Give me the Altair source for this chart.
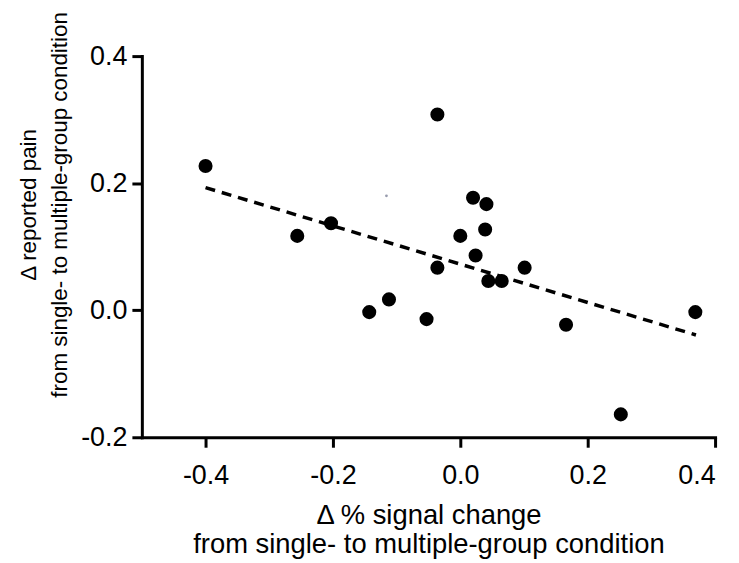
import altair as alt
import pandas as pd

# Data
x_vals = [-0.400, -0.036, 0.020, 0.041, 0.039, 0.000, -0.203, -0.256, 0.024, -0.036,
          0.044, 0.065, 0.101, -0.053, -0.112, -0.143, 0.166, 0.369, 0.252]
y_vals = [0.227, 0.308, 0.177, 0.167, 0.127, 0.117, 0.137, 0.117, 0.086, 0.067,
          0.046, 0.046, 0.067, -0.014, 0.017, -0.003, -0.023, -0.003, -0.164]
fit_x = [-0.40, 0.37]
fit_y = [0.193, -0.039]
speck_x = [-0.116]
speck_y = [0.180]
x_ticks = [-0.4, -0.2, 0.0, 0.2, 0.4]
y_ticks = [-0.2, 0.0, 0.2, 0.4]

pts = pd.DataFrame({"x": x_vals, "y": y_vals})
fit = pd.DataFrame({"x": fit_x, "y": fit_y})
speck = pd.DataFrame({"x": speck_x, "y": speck_y})

label_expr = "datum.value < 0 ? '-' + format(-datum.value, '.1f') : format(datum.value, '.1f')"

x_enc = alt.X(
    "x:Q",
    scale=alt.Scale(domain=[-0.5, 0.4], nice=False, zero=False),
    axis=alt.Axis(
        values=x_ticks,
        labelExpr=label_expr,
        title=["\u0394 % signal change", "from single- to multiple-group condition"],
        titleY=87,
        titleBaseline="alphabetic",
        titleLineHeight=29,
        titleFontSize=27.5,
        labelPadding=15,
    ),
)
y_enc = alt.Y(
    "y:Q",
    scale=alt.Scale(domain=[-0.2, 0.4], nice=False, zero=False),
    axis=alt.Axis(
        values=y_ticks,
        labelExpr=label_expr,
        title=["\u0394 reported pain", "from single- to multiple-group condition"],
        titleAngle=270,
        titleX=-114,
        titleY=149,
        titleBaseline="middle",
        titleAlign="center",
        titleLineHeight=31,
        titleFontSize=22.5,
        labelPadding=5,
    ),
)

line = alt.Chart(fit).mark_line(color="black", strokeDash=[10, 7], strokeWidth=3.5).encode(
    x=x_enc, y=y_enc
)
dots = alt.Chart(pts).mark_circle(size=200, color="black", opacity=1).encode(x=x_enc, y=y_enc)
tiny = alt.Chart(speck).mark_circle(size=8, color="#7d8299", opacity=0.8).encode(x=x_enc, y=y_enc)

chart = (
    alt.layer(line, dots, tiny)
    .properties(
        width=576,
        height=383,
        autosize=alt.AutoSizeParams(type="none"),
        padding={"left": 134.5, "top": 47, "right": 16, "bottom": 125},
        background="white",
    )
    .configure_axis(
        domainColor="black",
        domainWidth=3,
        domainCap="square",
        tickColor="black",
        tickWidth=3,
        tickSize=10,
        labelFont="Liberation Sans",
        labelFontSize=27,
        labelColor="black",
        titleFont="Liberation Sans",
        titleColor="black",
        titleFontWeight="normal",
        grid=False,
    )
    .configure_view(strokeOpacity=0)
)

chart.save("out.html", embed_options={"renderer": "svg", "actions": False})
